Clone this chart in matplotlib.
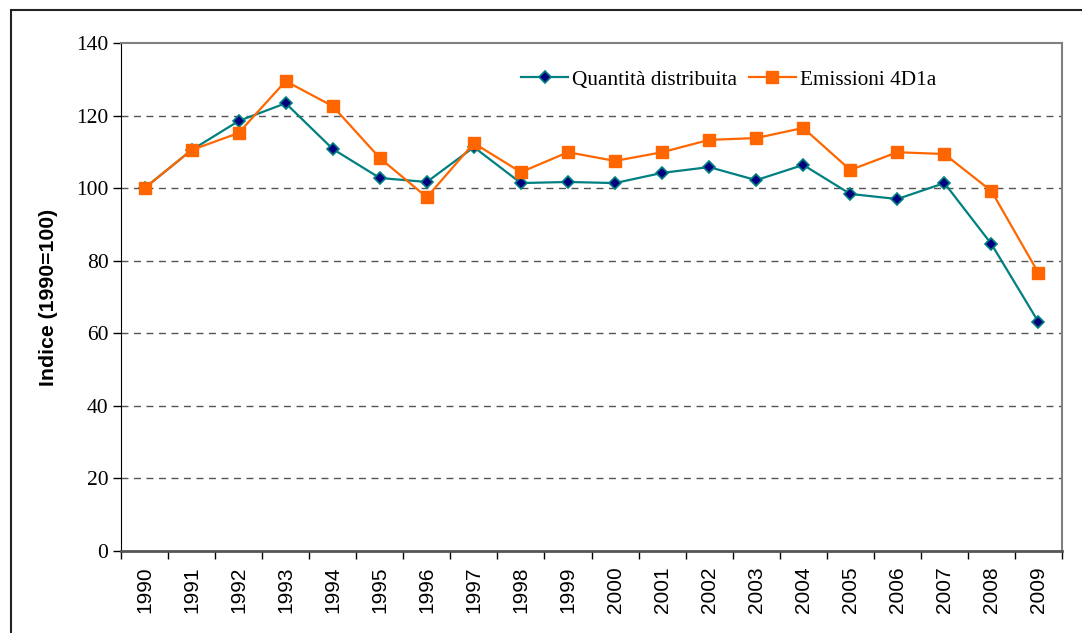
import matplotlib
matplotlib.use("Agg")
import matplotlib.pyplot as plt
from matplotlib.patches import Rectangle

years = [str(y) for y in range(1990, 2010)]
quantita = [100.0, 110.5, 118.5, 123.4, 110.8, 102.8, 101.7, 111.3, 101.4, 101.7,
            101.4, 104.2, 105.8, 102.2, 106.4, 98.4, 97.0, 101.4, 84.6, 63.1]
emissioni = [100.0, 110.5, 115.2, 129.5, 122.6, 108.3, 97.5, 112.4, 104.4, 109.9,
             107.5, 109.9, 113.3, 113.8, 116.6, 105.0, 109.9, 109.4, 99.2, 76.6]
yticks = [0, 20, 40, 60, 80, 100, 120, 140]

fig = plt.figure(figsize=(10.82, 6.33), dpi=100)
# outer chart frame, runs off the right and bottom edges
fig.patches.append(Rectangle((11 / 1082, -0.1), 1.2, (633 - 10) / 633 + 0.1,
                             transform=fig.transFigure, fill=False,
                             edgecolor="#222222", linewidth=1.5))

ax = fig.add_axes([121 / 1082, 82 / 633, 941 / 1082, 508 / 633])
x = list(range(len(years)))

ax.plot(x, quantita, color="#008080", linewidth=1.6, marker="D", markersize=6.5,
        markerfacecolor="#000080", markeredgecolor="#008080", markeredgewidth=1.2,
        label="Quantità distribuita", zorder=3)
ax.plot(x, emissioni, color="#FF6600", linewidth=1.6, marker="s", markersize=8,
        markerfacecolor="#FF6600", markeredgecolor="#FF6600",
        label="Emissioni 4D1a", zorder=4)

ax.set_xlim(-0.5, len(years) - 0.5)
ax.set_ylim(0, 140)
ax.set_yticks(yticks)
ax.set_yticklabels([str(v) for v in yticks], family="Liberation Serif", fontsize=15.5)
for v in yticks[1:-1]:
    ax.axhline(v, color="#555555", linewidth=1, linestyle=(0, (5, 4)), zorder=1)

ax.set_xticks([i - 0.5 for i in range(len(years) + 1)], minor=False)
ax.set_xticklabels([])
ax.set_xticks(x, minor=True)
ax.set_xticklabels(years, minor=True, rotation=90, family="Liberation Sans", fontsize=15)
ax.tick_params(axis="x", which="major", direction="out", length=6, width=1)
ax.tick_params(axis="x", which="minor", length=0, pad=11)
ax.tick_params(axis="y", direction="out", length=6, width=1, pad=3)

for side in ("top", "right"):
    ax.spines[side].set_color("#808080")
    ax.spines[side].set_linewidth(1.5)
ax.spines["left"].set_color("black")
ax.spines["bottom"].set_color("#555555")
ax.spines["bottom"].set_linewidth(2)

ax.set_ylabel("Indice (1990=100)", family="Liberation Sans", fontweight="bold",
              fontsize=15.3, labelpad=13)

ax.legend(loc="upper center", bbox_to_anchor=(0.646, 0.985), ncol=2, frameon=False,
          prop={"family": "Liberation Serif", "size": 15.3}, handlelength=2.2,
          columnspacing=0.55, handletextpad=0.2)

fig.savefig("out.png", dpi=100)
